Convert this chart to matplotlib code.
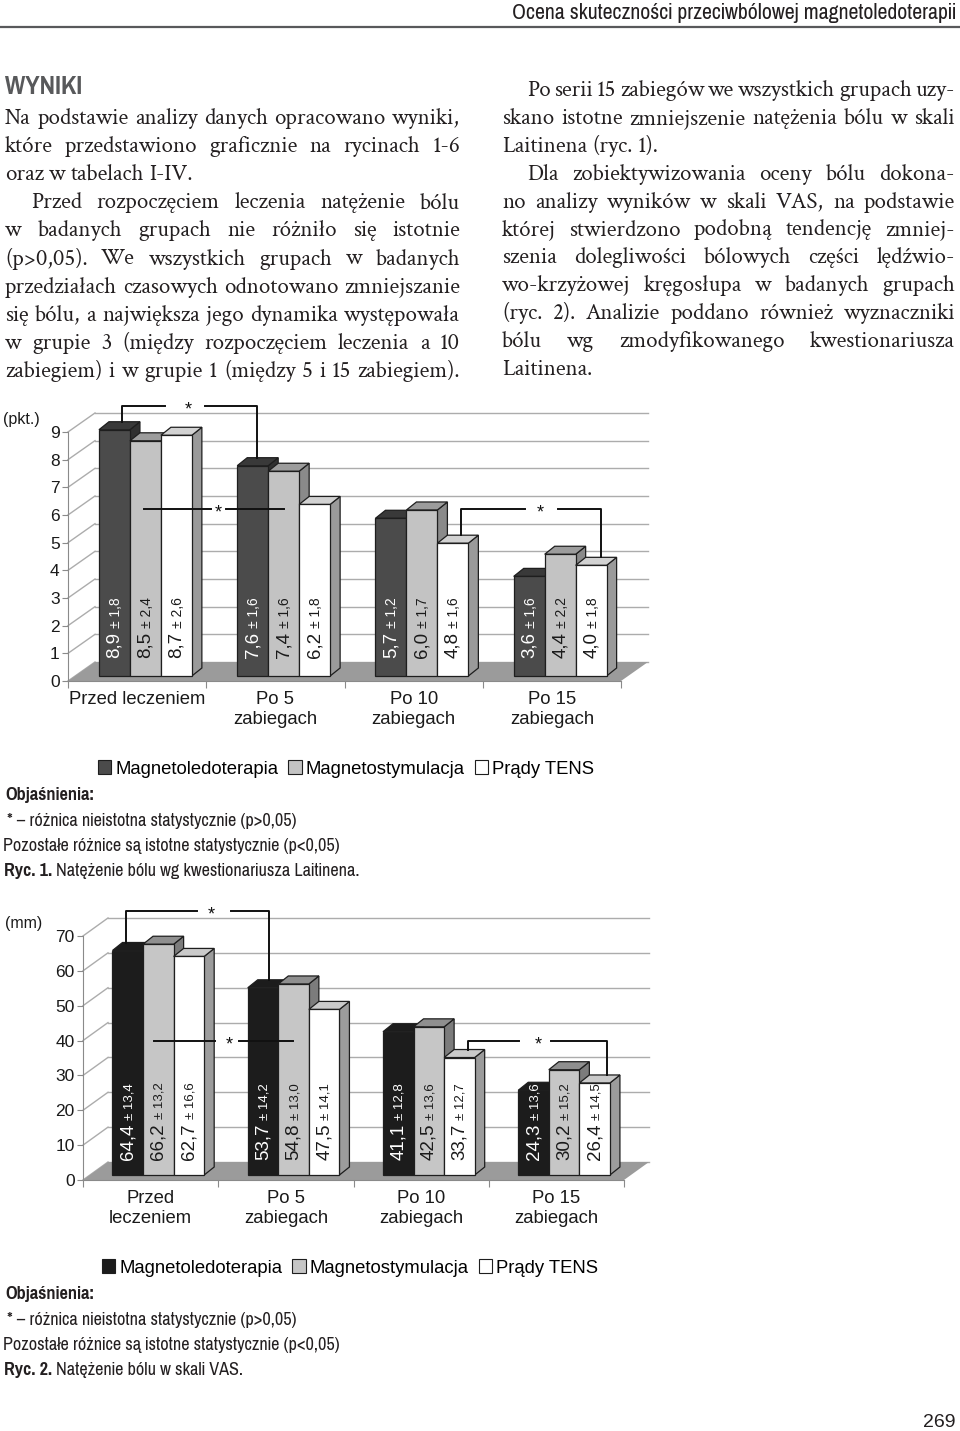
import matplotlib
matplotlib.use('Agg')
import matplotlib.pyplot as plt
import numpy as np
from matplotlib.patches import Polygon, Patch
from matplotlib.lines import Line2D
from matplotlib.transforms import ScaledTranslation
from matplotlib import font_manager

W, H = 960, 1431

# ---- data
groups_lait = ['Przed leczeniem', 'Po 5\nzabiegach', 'Po 10\nzabiegach', 'Po 15\nzabiegach']
groups_vas = ['Przed\nleczeniem', 'Po 5\nzabiegach', 'Po 10\nzabiegach', 'Po 15\nzabiegach']
series = ['Magnetoledoterapia', 'Magnetostymulacja', 'Prądy TENS']

lait_mled = [8.9, 7.6, 5.7, 3.6]
lait_mstym = [8.5, 7.4, 6.0, 4.4]
lait_tens = [8.7, 6.2, 4.8, 4.0]
lait_mled_sd = [1.8, 1.6, 1.2, 1.6]
lait_mstym_sd = [2.4, 1.6, 1.7, 2.2]
lait_tens_sd = [2.6, 1.8, 1.6, 1.8]

vas_mled = [64.4, 53.7, 41.1, 24.3]
vas_mstym = [66.2, 54.8, 42.5, 30.2]
vas_tens = [62.7, 47.5, 33.7, 26.4]
vas_mled_sd = [13.4, 14.2, 12.8, 13.6]
vas_mstym_sd = [13.2, 13.0, 13.6, 15.2]
vas_tens_sd = [16.6, 14.1, 12.7, 14.5]

# non significant comparisons (group, series) -> (group, series)
lait_ns = [(0, 0, 1, 0), (0, 1, 1, 1), (2, 2, 3, 2)]
vas_ns = [(0, 0, 1, 0), (0, 1, 1, 1), (2, 2, 3, 2)]

header = 'Ocena skuteczności przeciwbólowej magnetoledoterapii'
left_lines = [
    ('Na podstawie analizy danych opracowano wyniki,', 0, True),
    ('które przedstawiono graficznie na rycinach 1-6', 0, True),
    ('oraz w tabelach I-IV.', 0, False),
    ('Przed rozpoczęciem leczenia natężenie bólu', 1, True),
    ('w badanych grupach nie różniło się istotnie', 0, True),
    ('(p>0,05). We wszystkich grupach w badanych', 0, True),
    ('przedziałach czasowych odnotowano zmniejszanie', 0, True),
    ('się bólu, a największa jego dynamika występowała', 0, True),
    ('w grupie 3 (między rozpoczęciem leczenia a 10', 0, True),
    ('zabiegiem) i w grupie 1 (między 5 i 15 zabiegiem).', 0, True),
]
right_lines = [
    ('Po serii 15 zabiegów we wszystkich grupach uzy-', 1, True),
    ('skano istotne zmniejszenie natężenia bólu w skali', 0, True),
    ('Laitinena (ryc. 1).', 0, False),
    ('Dla zobiektywizowania oceny bólu dokona-', 1, True),
    ('no analizy wyników w skali VAS, na podstawie', 0, True),
    ('której stwierdzono podobną tendencję zmniej-', 0, True),
    ('szenia dolegliwości bólowych części lędźwio-', 0, True),
    ('wo-krzyżowej kręgosłupa w badanych grupach', 0, True),
    ('(ryc. 2). Analizie poddano również wyznaczniki', 0, True),
    ('bólu wg zmodyfikowanego kwestionariusza', 0, True),
    ('Laitinena.', 0, False),
]

plt.rcParams['font.family'] = ['Liberation Sans', 'DejaVu Sans']
names = {f.name for f in font_manager.fontManager.ttflist}


def pick(options):
    for o in options:
        if o in names:
            return o
    return options[-1]


NARROW = pick(['Liberation Sans Narrow', 'Pragati Narrow', 'Archivo Narrow', 'Roboto Condensed', 'Liberation Sans'])
SERIF = pick(['Crimson Text', 'Liberation Serif'])
TXT = '#231f20'
EDGE = '#1e1e1e'


def px(x, y):
    return x / W, 1 - y / H


def fmt(v):
    return f'{v:.1f}'.replace('.', ',')


def fit_size(fig, r, text, target, **kw):
    t = fig.text(0, 0, text, fontsize=20, **kw)
    w = t.get_window_extent(r).width
    t.remove()
    return 20 * target / w


def justify(fig, r, text, x0, x1, y, stretch, **kw):
    words = text.split(' ')
    arts = [fig.text(0, 0, w, va='baseline', **kw) for w in words]
    widths = [a.get_window_extent(r).width for a in arts]
    probe = fig.text(0, 0, 'a a', **kw)
    probe2 = fig.text(0, 0, 'aa', **kw)
    space = probe.get_window_extent(r).width - probe2.get_window_extent(r).width
    probe.remove()
    probe2.remove()
    gap = space
    if stretch and len(words) > 1:
        gap = (x1 - x0 - sum(widths)) / (len(words) - 1)
    x = x0
    for a, w in zip(arts, widths):
        a.set_position(px(x, y))
        x += w + gap


def draw_chart(fig, r, cfg, labels, means, sds, colors, pairs, brackets, unit):
    ox, oy = cfg['origin']
    sx, sy = cfg['scale']
    ymax = cfg['ymax']
    ax = fig.add_axes([ox / W, 1 - oy / H, 4 * sx / W, ymax * sy / H])
    ax.set_xlim(0, 4)
    ax.set_ylim(0, ymax)
    ax.patch.set_visible(False)
    ax.spines['top'].set_visible(False)
    ax.spines['right'].set_visible(False)
    ax.spines['left'].set_color('#8a8a8a')
    ax.spines['bottom'].set_color('#8a8a8a')

    wx, wy = cfg['wall'][0] / sx, cfg['wall'][1] / sy
    dx, dy = cfg['depth'][0] / sx, cfg['depth'][1] / sy
    base = cfg['base'] / sy
    ticks = np.arange(0, ymax + 1e-9, cfg['ystep'])

    # floor and back wall grid
    ax.add_patch(Polygon([(0, 0), (4, 0), (4 + wx, wy), (wx, wy)], closed=True,
                         fc='#9b9b9b', ec='none', zorder=1, clip_on=False))
    for v in ticks:
        ax.plot([wx, 4 + wx], [v + wy, v + wy], color='#acacac', lw=1, zorder=0.5, clip_on=False)
        ax.plot([0, wx], [v, v + wy], color='#acacac', lw=1, zorder=0.5, clip_on=False)

    xs = np.arange(4)
    bw = cfg['bar_w']
    for s in range(3):
        left = xs + cfg['bar_x'] + s * bw
        tops = base + np.array(means[s])
        front, top_c, side_c = colors[s]
        z = 2 + s * 0.1
        for l, t in zip(left, tops):
            rr = l + bw
            ax.add_patch(Polygon([(rr, base), (rr + dx, base + dy), (rr + dx, t + dy), (rr, t)],
                                 closed=True, fc=side_c, ec=EDGE, lw=0.9, zorder=z, clip_on=False))
            ax.add_patch(Polygon([(l, t), (rr, t), (rr + dx, t + dy), (l + dx, t + dy)],
                                 closed=True, fc=top_c, ec=EDGE, lw=0.9, zorder=z, clip_on=False))
        ax.bar(left, means[s], bw, bottom=base, align='edge', color=front,
               edgecolor=EDGE, lw=0.9, zorder=z, clip_on=False)

    # values inside the bars
    y0 = base + cfg['lab_off'] / sy
    for s in range(3):
        col = 'white' if s == 0 else '#1a1a1a'
        for g in range(4):
            xc = g + cfg['bar_x'] + (s + 0.5) * bw
            t1 = ax.text(xc, y0, fmt(means[s][g]), rotation=90, ha='center', va='bottom',
                         fontsize=cfg['fs_val'], color=col, zorder=6)
            h = t1.get_window_extent(r).height
            off = ScaledTranslation(1.5 / fig.dpi, (h + 4) / fig.dpi, fig.dpi_scale_trans)
            ax.text(xc, y0, '± ' + fmt(sds[s][g]), rotation=90, ha='center', va='bottom',
                    fontsize=cfg['fs_sd'], color=col, zorder=6, transform=ax.transData + off)

    # "*" brackets for non significant differences
    star_off = ScaledTranslation(0, -9 / fig.dpi, fig.dpi_scale_trans)
    for (ga, sa, gb, sb), (oa, ob, lvl, drop, shift, gl, gr) in zip(pairs, brackets):
        xa = ga + cfg['bar_x'] + (sa + 0.5) * bw + oa
        xb = gb + cfg['bar_x'] + (sb + 0.5) * bw + ob
        ya = base + means[sa][ga] + dy if drop else lvl
        yb = base + means[sb][gb] + dy if drop else lvl
        xm = (xa + xb) / 2 + shift
        ax.plot([xa, xa, xm - gl], [ya, lvl, lvl], color='#111111', lw=1.4, zorder=8, clip_on=False)
        ax.plot([xm + gr, xb, xb], [lvl, lvl, yb], color='#111111', lw=1.4, zorder=8, clip_on=False)
        ax.text(xm, lvl, '*', ha='center', va='baseline', fontsize=13, color='#111111',
                zorder=8, transform=ax.transData + star_off)

    ax.set_yticks(ticks)
    ax.set_yticklabels([f'{int(v)}' for v in ticks], fontsize=12.5, color='#1a1a1a')
    ax.tick_params(axis='y', length=4, width=0.8, color='#8a8a8a', pad=2)
    ax.set_xticks(range(5))
    ax.set_xticklabels([])
    ax.tick_params(axis='x', which='major', length=5, width=0.8, color='#8a8a8a')
    ax.set_xticks(xs + 0.5, minor=True)
    ax.set_xticklabels(labels, minor=True, fontsize=13.3, color='#1a1a1a')
    ax.tick_params(axis='x', which='minor', length=0, pad=7.5)

    ux, uy = cfg['unit_pos']
    fig.text(*px(ux, uy), unit, fontsize=11.5, color='#1a1a1a', va='baseline')

    # legend
    handles = [Patch(fc=c[0], ec=EDGE, lw=0.8) for c in colors]
    fig.legend(handles, series, loc='center', bbox_to_anchor=px(*cfg['legend']), ncol=3,
               frameon=False, fontsize=13.3, handlelength=0.72, handleheight=0.72,
               handletextpad=0.22, columnspacing=0.55, borderpad=0, borderaxespad=0)
    return ax


def caption(fig, r, yb, number, title, fs):
    kw = dict(family=NARROW, fontsize=fs, color=TXT, va='baseline')
    fig.text(*px(5, yb), 'Objaśnienia:', weight='bold', **kw)
    fig.text(*px(7, yb + 26), '* – różnica nieistotna statystycznie (p>0,05)', **kw)
    fig.text(*px(3, yb + 51), 'Pozostałe różnice są istotne statystycznie (p<0,05)', **kw)
    t = fig.text(*px(4, yb + 76), f'Ryc. {number}. ', weight='bold', **kw)
    wd = t.get_window_extent(r).width
    fig.text(*px(4 + wd, yb + 76), title, **kw)


fig = plt.figure(figsize=(W / 100, H / 100), dpi=100)
r = fig.canvas.get_renderer()

# header
fs_head = fit_size(fig, r, header, 443, family=NARROW)
fig.text(*px(956, 19), header, family=NARROW, fontsize=fs_head, color=TXT, ha='right', va='baseline')
fig.add_artist(Line2D([0, 1], [1 - 27 / H, 1 - 27 / H], transform=fig.transFigure, color='#58595b', lw=1.6))
fs_wyn = fit_size(fig, r, 'WYNIKI', 77, family=NARROW, weight='bold')
fig.text(*px(5, 94), 'WYNIKI', family=NARROW, weight='bold', fontsize=fs_wyn, color='#58595b', va='baseline')

fs_body = fit_size(fig, r, left_lines[0][0], 447, family=SERIF)
body = dict(family=SERIF, fontsize=fs_body, color=TXT)
for i, (line, ind, st) in enumerate(left_lines):
    justify(fig, r, line, 5 + ind * 26, 460, 124 + i * 28.1, st, **body)
for i, (line, ind, st) in enumerate(right_lines):
    justify(fig, r, line, 502 + ind * 25, 955, 96 + i * 27.9, st, **body)

fs_cap = fit_size(fig, r, 'Pozostałe różnice są istotne statystycznie (p<0,05)', 335, family=NARROW)

cfg1 = dict(origin=(68, 681), scale=(138.25, 27.67), ymax=9, ystep=1, wall=(27, 19), depth=(10, 8),
            base=5, bar_x=0.224, bar_w=0.224, lab_off=18, fs_val=13.5, fs_sd=10,
            unit_pos=(3, 424), legend=(346, 769))
colors1 = [('#4b4b4b', '#393939', '#303030'), ('#c3c3c3', '#9c9c9c', '#8a8a8a'), ('#ffffff', '#d2d2d2', '#9a9a9a')]
brackets1 = [(0.054, 0.031, 9.94, True, -0.01, 0.168, 0.122),
             (-0.01, 0.0, 6.22, False, 0.034, 0.056, 0.053),
             (0.059, 0.071, 6.22, True, 0.065, 0.108, 0.13)]
draw_chart(fig, r, cfg1, groups_lait, [lait_mled, lait_mstym, lait_tens],
           [lait_mled_sd, lait_mstym_sd, lait_tens_sd], colors1, lait_ns, brackets1, '(pkt.)')
caption(fig, r, 800, 1, 'Natężenie bólu wg kwestionariusza Laitinena.', fs_cap)

cfg2 = dict(origin=(83, 1180), scale=(135.25, 3.486), ymax=70, ystep=10, wall=(25, 18), depth=(10, 8),
            base=5, bar_x=0.218, bar_w=0.226, lab_off=15, fs_val=13.5, fs_sd=9.5,
            unit_pos=(5, 928), legend=(350, 1268))
colors2 = [('#1c1c1c', '#1c1c1c', '#111111'), ('#c6c6c6', '#8f8f8f', '#7c7c7c'), ('#ffffff', '#cacaca', '#9c9c9c')]
brackets2 = [(-0.013, 0.044, 77.2, True, 0.10, 0.103, 0.148),
             (-0.032, -0.004, 39.9, False, 0.041, 0.104, 0.073),
             (0.064, 0.093, 39.9, True, 0.006, 0.146, 0.09)]
draw_chart(fig, r, cfg2, groups_vas, [vas_mled, vas_mstym, vas_tens],
           [vas_mled_sd, vas_mstym_sd, vas_tens_sd], colors2, vas_ns, brackets2, '(mm)')
caption(fig, r, 1299, 2, 'Natężenie bólu w skali VAS.', fs_cap)

fig.text(*px(955, 1427), '269', fontsize=14, color=TXT, ha='right', va='baseline')

fig.savefig('out.png', dpi=100)
